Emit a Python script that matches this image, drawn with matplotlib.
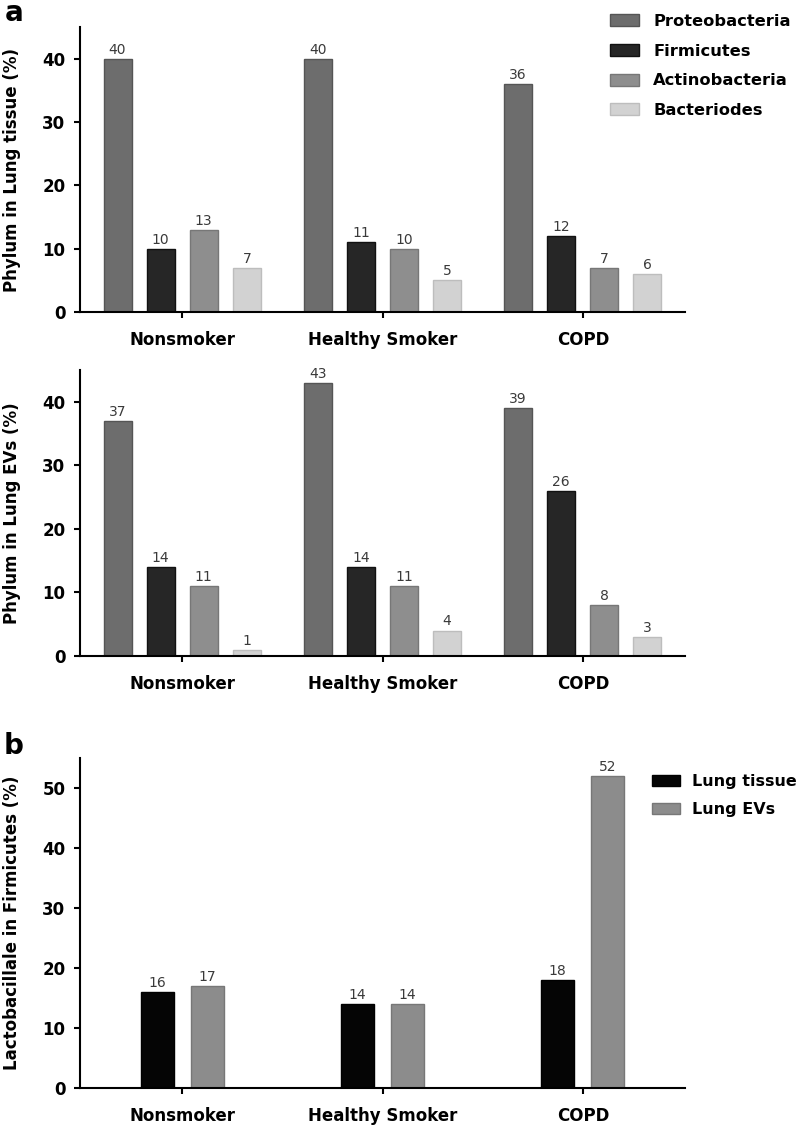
import numpy as np
import matplotlib.pyplot as plt
from matplotlib.patches import Patch

groups = ["Nonsmoker", "Healthy Smoker", "COPD"]

phyla = ["Proteobacteria", "Firmicutes", "Actinobacteria", "Bacteriodes"]
phyla_colors = ["#6d6d6d", "#262626", "#8e8e8e", "#d2d2d2"]
phyla_edges = ["#555555", "#111111", "#777777", "#bdbdbd"]

tissue_vals = [
    [40, 40, 36],   # Proteobacteria
    [10, 11, 12],   # Firmicutes
    [13, 10, 7],    # Actinobacteria
    [7, 5, 6],      # Bacteriodes
]
evs_vals = [
    [37, 43, 39],
    [14, 14, 26],
    [11, 11, 8],
    [1, 4, 3],
]

lacto_series = ["Lung tissue", "Lung EVs"]
lacto_colors = ["#050505", "#8c8c8c"]
lacto_edges = ["#000000", "#777777"]
lacto_vals = [
    [16, 14, 18],
    [17, 14, 52],
]

plt.rcParams['font.family'] = ['DejaVu Sans']

W, H = 798, 1128
fig = plt.figure(figsize=(W / 100, H / 100), dpi=100)


def px_axes(left, right, top, bottom):
    return fig.add_axes([left / W, 1 - bottom / H, (right - left) / W, (bottom - top) / H])


def style_axes(ax, ymax, yticks, ylabel):
    x = np.arange(len(groups))
    ax.set_xlim(-0.51, 2.51)
    ax.set_ylim(0, ymax)
    ax.set_yticks(yticks)
    ax.set_xticks(x)
    ax.set_xticklabels(groups)
    for s in ["top", "right"]:
        ax.spines[s].set_visible(False)
    for s in ["left", "bottom"]:
        ax.spines[s].set_linewidth(1.5)
    ax.tick_params(axis="x", length=4, width=1.5, pad=10, labelsize=12)
    ax.tick_params(axis="y", length=4.5, width=1.5, pad=6, labelsize=12)
    for lab in ax.get_xticklabels() + ax.get_yticklabels():
        lab.set_fontweight("bold")
    ax.set_ylabel(ylabel, fontsize=12, fontweight="bold")
    ax.yaxis.set_label_coords(-0.097, 0.5)


def grouped_bars(ax, vals, colors, edges, width, step):
    x = np.arange(len(groups))
    n = len(vals)
    for i, v in enumerate(vals):
        off = (i - (n - 1) / 2) * step
        bars = ax.bar(x + off, v, width, color=colors[i], edgecolor=edges[i], linewidth=1)
        for b, val in zip(bars, v):
            ax.annotate(str(val), (b.get_x() + b.get_width() / 2, b.get_height()),
                        xytext=(0, 1.5), textcoords="offset points",
                        ha="center", va="bottom", fontsize=10, color="#3a3a3a")


# panel a, lung tissue
ax1 = px_axes(80, 685, 27, 312)
grouped_bars(ax1, tissue_vals, phyla_colors, phyla_edges, 0.14, 0.215)
style_axes(ax1, 45, [0, 10, 20, 30, 40], "Phylum in Lung tissue (%)")

# panel a, lung EVs
ax2 = px_axes(80, 685, 370, 656)
grouped_bars(ax2, evs_vals, phyla_colors, phyla_edges, 0.14, 0.215)
style_axes(ax2, 45, [0, 10, 20, 30, 40], "Phylum in Lung EVs (%)")

# panel b
ax3 = px_axes(80, 685, 758, 1088)
grouped_bars(ax3, lacto_vals, lacto_colors, lacto_edges, 0.165, 0.25)
style_axes(ax3, 55, [0, 10, 20, 30, 40, 50], "Lactobacillale in Firmicutes (%)")

handles_a = [Patch(facecolor=c, edgecolor=e) for c, e in zip(phyla_colors, phyla_edges)]
fig.legend(handles_a, phyla, loc="upper left", bbox_to_anchor=(610 / W, 1 - 14 / H),
           frameon=False, borderpad=0, borderaxespad=0, handlelength=1.8,
           handleheight=0.75, handletextpad=0.85, labelspacing=0.9,
           prop={"size": 11.7, "weight": "bold"})

handles_b = [Patch(facecolor=c, edgecolor=e) for c, e in zip(lacto_colors, lacto_edges)]
fig.legend(handles_b, lacto_series, loc="upper left", bbox_to_anchor=(652 / W, 1 - 774 / H),
           frameon=False, borderpad=0, borderaxespad=0, handlelength=1.75,
           handleheight=0.75, handletextpad=0.75, labelspacing=0.82,
           prop={"size": 11.5, "weight": "bold"})

fig.text(14 / W, 1 - 13 / H, "a", fontsize=20, fontweight="bold", ha="center", va="center")
fig.text(14 / W, 1 - 746 / H, "b", fontsize=20, fontweight="bold", ha="center", va="center")

fig.savefig("out.png", dpi=100)
